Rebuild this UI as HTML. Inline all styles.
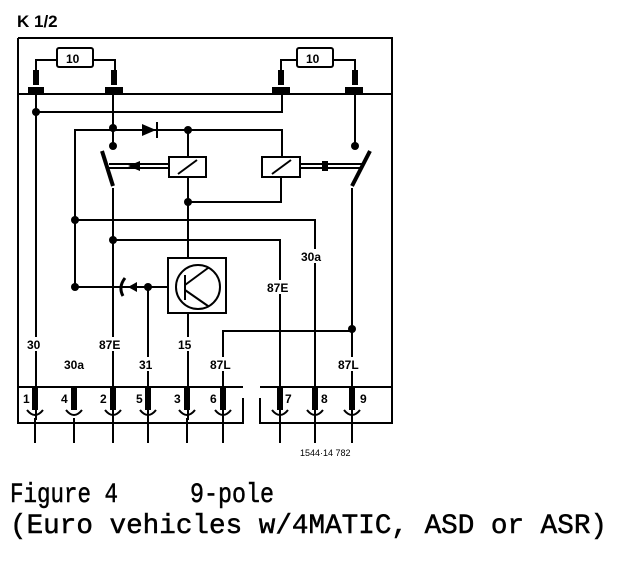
<!DOCTYPE html>
<html><head><style>
html,body{margin:0;padding:0;background:#fff;}
svg{display:block;}
.l{stroke:#000;stroke-width:2;fill:none;}
.t{font-family:"Liberation Sans",sans-serif;font-weight:bold;font-size:12px;fill:#000;}
.c{font-family:"Liberation Mono",monospace;font-size:27.5px;fill:#000;stroke:#000;stroke-width:0.5;}
</style></head><body>
<svg width="624" height="564" viewBox="0 0 624 564" xmlns="http://www.w3.org/2000/svg">
<text x="17" y="27" font-family="Liberation Sans,sans-serif" font-weight="bold" font-size="17" fill="#000">K 1/2</text>
<path class="l" d="M18 38 H392 V167"/>
<path class="l" d="M18 38 V387"/>
<path class="l" d="M392 167 V387 H260 M243 387 H18"/>
<path class="l" d="M18 94 H392"/>
<rect x="57" y="48" width="36" height="19" rx="2" class="l"/>
<text x="66" y="63" class="t" font-size="13">10</text>
<path class="l" d="M36 76 V60 H57 M93 60 H115 V76"/>
<rect x="33" y="70" width="6" height="15" fill="#000"/><rect x="111" y="70" width="6" height="15" fill="#000"/>
<rect x="28" y="87" width="16" height="7" fill="#000"/><rect x="105" y="87" width="18" height="7" fill="#000"/>
<rect x="297" y="48" width="36" height="19" rx="2" class="l"/>
<text x="306" y="63" class="t" font-size="13">10</text>
<path class="l" d="M281 76 V60 H297 M333 60 H355 V76"/>
<rect x="278" y="70" width="6" height="15" fill="#000"/><rect x="352" y="70" width="6" height="15" fill="#000"/>
<rect x="272" y="87" width="18" height="7" fill="#000"/><rect x="345" y="87" width="18" height="7" fill="#000"/>
<path class="l" d="M36 94 V420 M36 112 H282 V94"/>
<path class="l" d="M113 94 V146 M75 290 V130 H282 V157"/>
<path class="l" d="M188 130 V157 M188 177 V258 M188 202 H281 V177"/>
<path class="l" d="M355 94 V146"/>
<polygon points="142,124 156,130 142,136" fill="#000"/><path class="l" d="M157 122 V138"/>
<rect x="169" y="157" width="37" height="20" class="l"/><path class="l" d="M178 174 L197 160"/>
<rect x="262" y="157" width="38" height="20" class="l"/><path class="l" d="M272 174 L291 160"/>
<path d="M102 151 L113 186" stroke="#000" stroke-width="4"/>
<path class="l" d="M109 164 H169 M109 168 H169"/>
<polygon points="128,166 140,161 140,171" fill="#000"/>
<path d="M370 151 L352 186" stroke="#000" stroke-width="4"/>
<path class="l" d="M300 164 H362 M300 168 H360"/>
<rect x="322" y="161" width="6" height="10" fill="#000"/>
<path class="l" d="M113 188 V420 M352 188 V420"/>
<path class="l" d="M75 220 H315 V420"/>
<path class="l" d="M113 240 H280 V420"/>
<path class="l" d="M75 287 H168"/>
<path class="l" d="M148 287 V420"/>
<path d="M125 278 Q118 287 123 296" stroke="#000" stroke-width="3" fill="none"/>
<polygon points="128,287 137,282 137,292" fill="#000"/>
<rect x="168" y="258" width="58" height="55" class="l"/>
<circle cx="198" cy="287" r="22" class="l"/>
<path class="l" d="M185 275 V300 M185 285 L208 268 M185 290 L208 306"/>
<path class="l" d="M188 313 V420"/>
<path class="l" d="M223 420 V331 H352"/>
<g fill="#000">
<circle cx="36" cy="112" r="4"/><circle cx="113" cy="128" r="4"/><circle cx="188" cy="130" r="4"/>
<circle cx="113" cy="146" r="4"/><circle cx="355" cy="146" r="4"/><circle cx="188" cy="202" r="4"/>
<circle cx="75" cy="220" r="4"/><circle cx="113" cy="240" r="4"/><circle cx="75" cy="287" r="4"/>
<circle cx="148" cy="287" r="4"/><circle cx="352" cy="329" r="4"/>
</g>
<rect x="26" y="337" width="20" height="14" fill="#fff"/><text x="27" y="349" class="t">30</text>
<rect x="63" y="357" width="28" height="14" fill="#fff"/><text x="64" y="369" class="t">30a</text>
<rect x="98" y="337" width="30" height="14" fill="#fff"/><text x="99" y="349" class="t">87E</text>
<rect x="138" y="357" width="20" height="14" fill="#fff"/><text x="139" y="369" class="t">31</text>
<rect x="177" y="337" width="20" height="14" fill="#fff"/><text x="178" y="349" class="t">15</text>
<rect x="208" y="357" width="30" height="14" fill="#fff"/><text x="210" y="369" class="t">87L</text>
<rect x="266" y="280" width="30" height="14" fill="#fff"/><text x="267" y="292" class="t">87E</text>
<rect x="300" y="249" width="28" height="14" fill="#fff"/><text x="301" y="261" class="t">30a</text>
<rect x="336" y="357" width="32" height="14" fill="#fff"/><text x="338" y="369" class="t">87L</text>
<path class="l" d="M18 387 V423 H243 V398 M260 398 V423 H392 V387"/>
<g fill="#000">
<rect x="32" y="388" width="6" height="22"/><rect x="71" y="388" width="6" height="22"/>
<rect x="110" y="388" width="6" height="22"/><rect x="145" y="388" width="6" height="22"/>
<rect x="184" y="388" width="6" height="22"/><rect x="220" y="388" width="6" height="22"/>
<rect x="277" y="388" width="6" height="22"/><rect x="312" y="388" width="6" height="22"/>
<rect x="349" y="388" width="6" height="22"/>
</g>
<g class="l" stroke-width="3">
<path d="M27 410 Q35 420 43 410"/><path d="M66 410 Q74 420 82 410"/><path d="M105 410 Q113 420 121 410"/>
<path d="M140 410 Q148 420 156 410"/><path d="M179 410 Q187 420 195 410"/><path d="M215 410 Q223 420 231 410"/>
<path d="M272 410 Q280 420 288 410"/><path d="M307 410 Q315 420 323 410"/><path d="M344 410 Q352 420 360 410"/>
</g>
<path class="l" d="M35 418 V443 M74 418 V443 M113 418 V443 M148 418 V443 M187 418 V443 M223 418 V443 M280 418 V443 M315 418 V443 M352 418 V443"/>
<g class="t">
<text x="23" y="403">1</text><text x="61" y="403">4</text><text x="100" y="403">2</text>
<text x="136" y="403">5</text><text x="174" y="403">3</text><text x="210" y="403">6</text>
<text x="285" y="403">7</text><text x="321" y="403">8</text><text x="360" y="403">9</text>
</g>
<text x="300" y="456" font-family="Liberation Sans,sans-serif" font-size="9" fill="#000">1544·14 782</text>
<text x="10" y="502" class="c" textLength="108" lengthAdjust="spacingAndGlyphs">Figure 4</text>
<text x="190" y="502" class="c" textLength="84" lengthAdjust="spacingAndGlyphs">9-pole</text>
<text x="10" y="533" class="c" textLength="597" lengthAdjust="spacingAndGlyphs">(Euro vehicles w/4MATIC, ASD or ASR)</text>
</svg>
</body></html>
